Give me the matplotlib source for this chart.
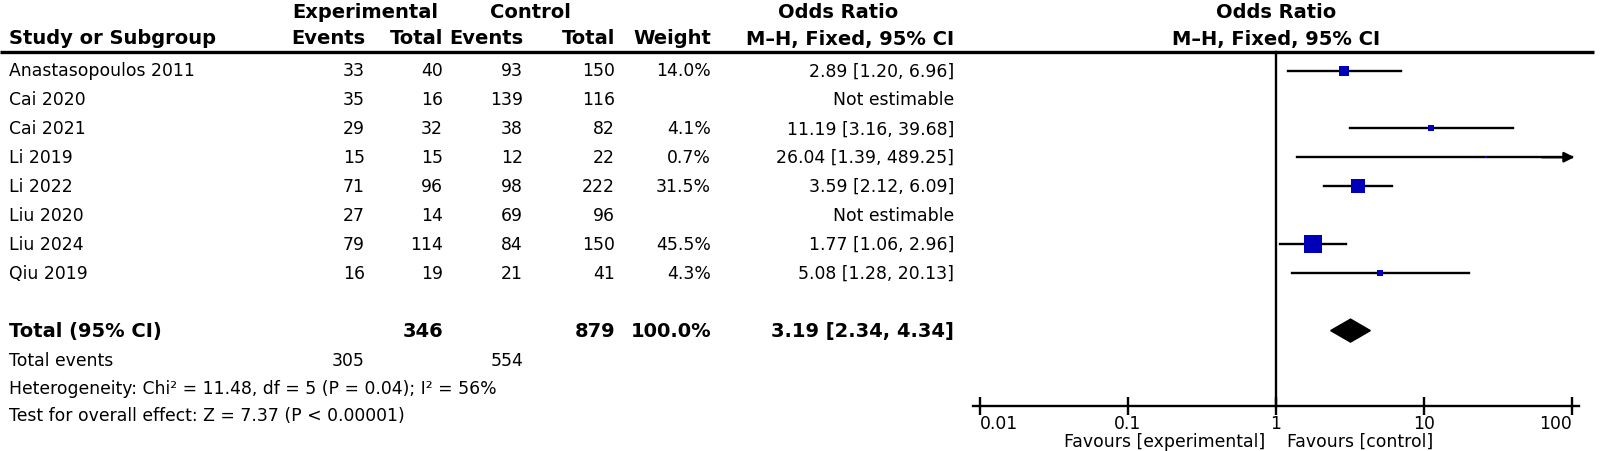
import numpy as np
import matplotlib
matplotlib.use("Agg")
import matplotlib.pyplot as plt
from matplotlib.patches import Polygon

plt.rcParams['font.family'] = ['DejaVu Sans']

# data
studies = ['Anastasopoulos 2011', 'Cai 2020', 'Cai 2021', 'Li 2019',
           'Li 2022', 'Liu 2020', 'Liu 2024', 'Qiu 2019']
exp_events = [33, 35, 29, 15, 71, 27, 79, 16]
exp_total = [40, 16, 32, 15, 96, 14, 114, 19]
ctl_events = [93, 139, 38, 12, 98, 69, 84, 21]
ctl_total = [150, 116, 82, 22, 222, 96, 150, 41]
weights = [14.0, None, 4.1, 0.7, 31.5, None, 45.5, 4.3]
odds = [2.89, None, 11.19, 26.04, 3.59, None, 1.77, 5.08]
ci_low = [1.20, None, 3.16, 1.39, 2.12, None, 1.06, 1.28]
ci_high = [6.96, None, 39.68, 489.25, 6.09, None, 2.96, 20.13]

total_exp, total_ctl = 346, 879
events_exp, events_ctl = 305, 554
pooled_or, pooled_lo, pooled_hi = 3.19, 2.34, 4.34
het_text = 'Heterogeneity: Chi\u00b2 = 11.48, df = 5 (P = 0.04); I\u00b2 = 56%'
effect_text = 'Test for overall effect: Z = 7.37 (P < 0.00001)'
xticks = [0.01, 0.1, 1, 10, 100]
xtick_labels = ['0.01', '0.1', '1', '10', '100']

W, H = 1600, 452
fig = plt.figure(figsize=(W / 100, H / 100), dpi=100)

# table layer in pixel coordinates
tab = fig.add_axes([0, 0, 1, 1])
tab.set_xlim(0, W)
tab.set_ylim(H, 0)
tab.axis('off')

fs = 12.4
fs_b = 14
row_y = [71.5 + 28.9 * i for i in range(len(studies))]
total_y = 71.5 + 28.9 * 9
cols = {'ee': 365, 'et': 443, 'ce': 523, 'ct': 615, 'w': 711, 'or': 954}
left = 9


def txt(x, y, s, ha='right', bold=False):
    tab.text(x, y, s, ha=ha, va='center', fontsize=fs_b if bold else fs,
             fontweight='bold' if bold else 'normal')


# headers
txt(365, 13, 'Experimental', ha='center', bold=True)
txt(530, 13, 'Control', ha='center', bold=True)
txt(838, 13, 'Odds Ratio', ha='center', bold=True)
txt(1276, 13, 'Odds Ratio', ha='center', bold=True)
txt(left, 39, 'Study or Subgroup', ha='left', bold=True)
txt(cols['ee'], 39, 'Events', bold=True)
txt(cols['et'], 39, 'Total', bold=True)
txt(cols['ce'], 39, 'Events', bold=True)
txt(cols['ct'], 39, 'Total', bold=True)
txt(cols['w'], 39, 'Weight', bold=True)
txt(cols['or'], 39, 'M\u2013H, Fixed, 95% CI', bold=True)
txt(1276, 39, 'M\u2013H, Fixed, 95% CI', ha='center', bold=True)
tab.plot([0, 1594], [53, 53], color='black', lw=2.4, solid_capstyle='butt')

for i, name in enumerate(studies):
    y = row_y[i]
    txt(left, y, name, ha='left')
    txt(cols['ee'], y, str(exp_events[i]))
    txt(cols['et'], y, str(exp_total[i]))
    txt(cols['ce'], y, str(ctl_events[i]))
    txt(cols['ct'], y, str(ctl_total[i]))
    if weights[i] is None:
        txt(cols['or'], y, 'Not estimable')
    else:
        txt(cols['w'], y, f'{weights[i]:.1f}%')
        txt(cols['or'], y, f'{odds[i]:.2f} [{ci_low[i]:.2f}, {ci_high[i]:.2f}]')

txt(left, total_y, 'Total (95% CI)', ha='left', bold=True)
txt(cols['et'], total_y, str(total_exp), bold=True)
txt(cols['ct'], total_y, str(total_ctl), bold=True)
txt(cols['w'], total_y, '100.0%', bold=True)
txt(cols['or'], total_y, f'{pooled_or:.2f} [{pooled_lo:.2f}, {pooled_hi:.2f}]', bold=True)
txt(left, 361, 'Total events', ha='left')
txt(cols['ee'], 361, str(events_exp))
txt(cols['ce'], 361, str(events_ctl))
txt(left, 389, het_text, ha='left')
txt(left, 416, effect_text, ha='left')

# forest plot
dec = 148.0
one_px = 1276
pad = 0.045
left_px = one_px - (2 + pad) * dec
right_px = one_px + (2 + pad) * dec
axis_y = 407
ax = fig.add_axes([left_px / W, 0, (right_px - left_px) / W, 1])
ax.set_xscale('log')
ax.set_xlim(10 ** (-2 - pad), 10 ** (2 + pad))
ax.set_ylim(H, 0)
ax.patch.set_alpha(0)
for s in ['left', 'right', 'top']:
    ax.spines[s].set_visible(False)
ax.spines['bottom'].set_position(('data', axis_y))
ax.spines['bottom'].set_linewidth(1.7)
ax.set_yticks([])
ax.set_xticks(xticks)
ax.set_xticklabels(xtick_labels, fontsize=fs)
ax.minorticks_off()
ax.tick_params(axis='x', direction='inout', length=13, width=1.7, pad=-1)
lbls = ax.get_xticklabels()
lbls[0].set_horizontalalignment('left')
lbls[-1].set_horizontalalignment('right')

ax.plot([1, 1], [53, axis_y], color='black', lw=1.7)

blue = '#0000b8'
for i in range(len(studies)):
    if odds[i] is None:
        continue
    y = row_y[i]
    hi = min(ci_high[i], 100)
    ax.plot([ci_low[i], hi], [y, y], color='black', lw=1.7)
    if ci_high[i] > 100:
        ax.annotate('', xy=(10 ** 2.035, y), xytext=(60, y),
                    arrowprops=dict(arrowstyle='-|>', color='black', lw=1.7,
                                    mutation_scale=15))
    side = 2.55 * np.sqrt(weights[i])
    ax.plot(odds[i], y, marker='s', markersize=side * 0.72, color=blue,
            markeredgewidth=0)

dy = 11.5
diamond = Polygon([[pooled_lo, total_y], [pooled_or, total_y - dy],
                   [pooled_hi, total_y], [pooled_or, total_y + dy]],
                  closed=True, facecolor='black', edgecolor='black')
ax.add_patch(diamond)

ax.text(1, 442, 'Favours [experimental]  ', ha='right', va='center', fontsize=fs)
ax.text(1, 442, '  Favours [control]', ha='left', va='center', fontsize=fs)

fig.savefig('out.png', dpi=100)
